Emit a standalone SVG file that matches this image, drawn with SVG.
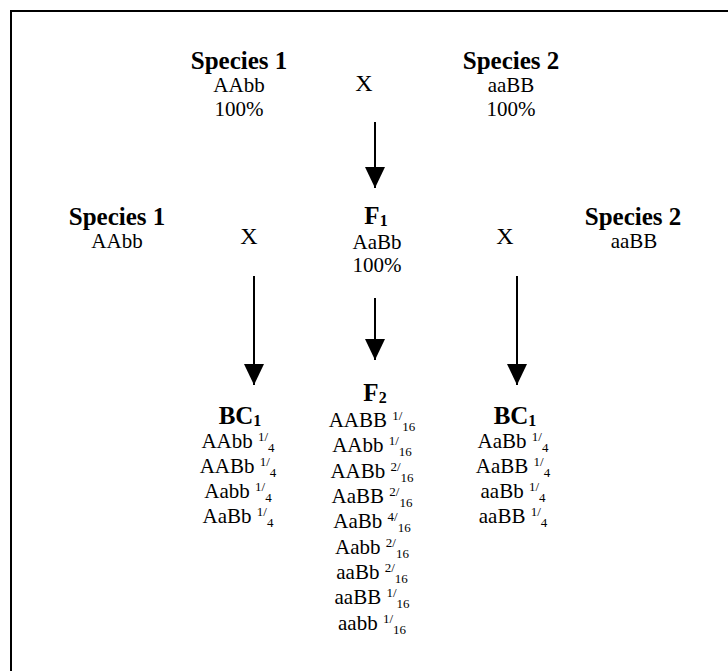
<svg xmlns="http://www.w3.org/2000/svg" width="728" height="671" viewBox="0 0 728 671">
  <style>
    text { font-family: "Liberation Serif", "Times New Roman", serif; text-anchor: middle; fill: #000; }
    .b { font-size: 25px; font-weight: bold; }
    .r { font-size: 21px; }
    .x { font-size: 24px; }
    .s { font-size: 13px; }
    .bs { font-size: 16px; }
    .frame { fill: none; stroke: #000; stroke-width: 2; }
    .link { stroke: #000; stroke-width: 2; fill: none; marker-end: url(#head); }
  </style>
  <defs>
    <marker id="head" viewBox="0 0 21 20" markerWidth="21" markerHeight="20" refX="21" refY="10" markerUnits="userSpaceOnUse" orient="auto">
      <path d="M0,0 L21,10 L0,20 Z" fill="#000"/>
    </marker>
  </defs>

  <!-- page frame -->
  <path class="frame" d="M11,671 V11 H728"/>

  <!-- parental cross -->
  <g id="p-species1">
    <text class="b" x="239" y="69">Species 1</text>
    <text class="r" x="239" y="92">AAbb</text>
    <text class="r" x="239" y="116">100%</text>
  </g>
  <g id="p-cross">
    <text class="x" x="364" y="91">X</text>
  </g>
  <g id="p-species2">
    <text class="b" x="511" y="69">Species 2</text>
    <text class="r" x="511" y="92">aaBB</text>
    <text class="r" x="511" y="116">100%</text>
  </g>

  <!-- F1 generation and backcrosses -->
  <g id="bc-species1">
    <text class="b" x="117" y="225">Species 1</text>
    <text class="r" x="117" y="248">AAbb</text>
  </g>
  <g id="bc-cross-left">
    <text class="x" x="249" y="244">X</text>
  </g>
  <g id="f1">
    <text class="b" x="376" y="224">F<tspan class="bs" dy="2">1</tspan></text>
    <text class="r" x="377" y="249">AaBb</text>
    <text class="r" x="377" y="272">100%</text>
  </g>
  <g id="bc-cross-right">
    <text class="x" x="505" y="244">X</text>
  </g>
  <g id="bc-species2">
    <text class="b" x="633" y="225">Species 2</text>
    <text class="r" x="634" y="248">aaBB</text>
  </g>

  <!-- offspring -->
  <g id="bc1-left">
    <text class="b" x="240" y="424">BC<tspan class="bs" dy="2">1</tspan></text>
    <text class="r" x="238" y="448">AAbb <tspan class="s" dy="-7">1/</tspan><tspan class="s" dy="10.5">4</tspan></text>
    <text class="r" x="238" y="473">AABb <tspan class="s" dy="-7">1/</tspan><tspan class="s" dy="10.5">4</tspan></text>
    <text class="r" x="238" y="498">Aabb <tspan class="s" dy="-7">1/</tspan><tspan class="s" dy="10.5">4</tspan></text>
    <text class="r" x="238" y="523">AaBb <tspan class="s" dy="-7">1/</tspan><tspan class="s" dy="10.5">4</tspan></text>
  </g>
  <g id="f2">
    <text class="b" x="375" y="401">F<tspan class="bs" dy="2">2</tspan></text>
    <text class="r" x="372" y="427">AABB <tspan class="s" dy="-7">1/</tspan><tspan class="s" dy="10.5">16</tspan></text>
    <text class="r" x="372" y="452">AAbb <tspan class="s" dy="-7">1/</tspan><tspan class="s" dy="10.5">16</tspan></text>
    <text class="r" x="372" y="478">AABb <tspan class="s" dy="-7">2/</tspan><tspan class="s" dy="10.5">16</tspan></text>
    <text class="r" x="372" y="503">AaBB <tspan class="s" dy="-7">2/</tspan><tspan class="s" dy="10.5">16</tspan></text>
    <text class="r" x="372" y="528">AaBb <tspan class="s" dy="-7">4/</tspan><tspan class="s" dy="10.5">16</tspan></text>
    <text class="r" x="372" y="554">Aabb <tspan class="s" dy="-7">2/</tspan><tspan class="s" dy="10.5">16</tspan></text>
    <text class="r" x="372" y="579">aaBb <tspan class="s" dy="-7">2/</tspan><tspan class="s" dy="10.5">16</tspan></text>
    <text class="r" x="372" y="604">aaBB <tspan class="s" dy="-7">1/</tspan><tspan class="s" dy="10.5">16</tspan></text>
    <text class="r" x="372" y="630">aabb <tspan class="s" dy="-7">1/</tspan><tspan class="s" dy="10.5">16</tspan></text>
  </g>
  <g id="bc1-right">
    <text class="b" x="515" y="424">BC<tspan class="bs" dy="2">1</tspan></text>
    <text class="r" x="513" y="448">AaBb <tspan class="s" dy="-7">1/</tspan><tspan class="s" dy="10.5">4</tspan></text>
    <text class="r" x="513" y="473">AaBB <tspan class="s" dy="-7">1/</tspan><tspan class="s" dy="10.5">4</tspan></text>
    <text class="r" x="513" y="498">aaBb <tspan class="s" dy="-7">1/</tspan><tspan class="s" dy="10.5">4</tspan></text>
    <text class="r" x="513" y="523">aaBB <tspan class="s" dy="-7">1/</tspan><tspan class="s" dy="10.5">4</tspan></text>
  </g>

  <!-- connectors -->
  <g id="connectors">
    <line class="link" x1="375" y1="122" x2="375" y2="188"/>
    <line class="link" x1="254" y1="276" x2="254" y2="385"/>
    <line class="link" x1="375" y1="298" x2="375" y2="360"/>
    <line class="link" x1="517" y1="276" x2="517" y2="385"/>
  </g>
</svg>
